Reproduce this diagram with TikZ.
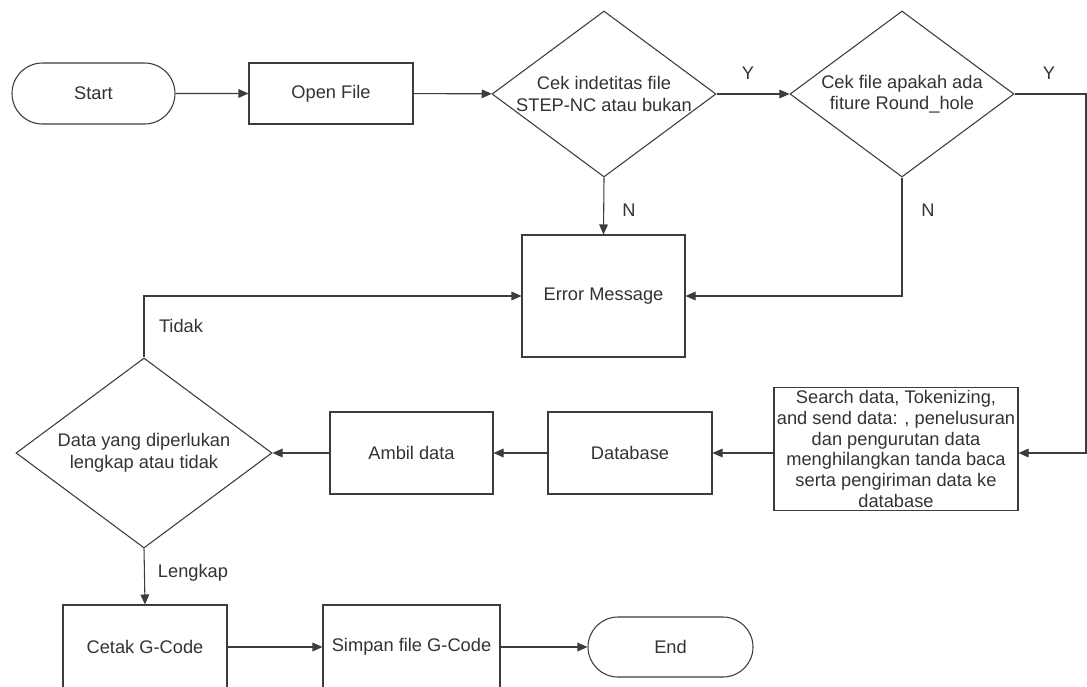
\documentclass[tikz,border=0pt]{standalone}
\usepackage{fontspec}
\setmainfont{Liberation Sans}
\usetikzlibrary{shapes.geometric,shapes.misc,arrows.meta}
\definecolor{ln}{HTML}{3C3C3C}
\definecolor{tx}{HTML}{333333}
\begin{document}
\begin{tikzpicture}[x=0.75pt,y=-0.75pt,
  every node/.style={font=\fontsize{13.7}{16.2}\selectfont, text=tx},
  base/.style={draw=ln, line width=0.8pt, fill=white, align=center, inner sep=0pt},
  term/.style={base, rounded rectangle},
  proc/.style={base, rectangle},
  dec/.style={base, diamond, shape aspect=1.35},
  arr/.style={draw=ln, line width=0.8pt, -{Triangle[length=7.5pt,width=6.5pt]}},
  lbl/.style={inner sep=0pt}
]
\useasboundingbox (0,0) rectangle (1087,686);
\fill[white] (0,0) rectangle (1087,686);

\node[term, minimum width=122.25pt, minimum height=45.75pt] (start) at (93.5,93.5) {Start};
\node[proc, minimum width=123pt, minimum height=45.75pt] (open) at (331,93.5) {Open File};
\node[dec, minimum width=168pt, minimum height=124.5pt] (d1) at (604,94) {Cek indetitas file\\STEP-NC atau bukan};
\node[dec, minimum width=168pt, minimum height=124.5pt] (d2) at (902,94) {Cek file apakah ada\\fiture Round\_hole};
\node[proc, minimum width=122.25pt, minimum height=91.5pt] (err) at (603.5,296) {Error Message};
\node[proc, minimum width=183pt, minimum height=92.25pt, inner ysep=0.3pt, font=\fontsize{13.7}{15.5}\selectfont] (search) at (896,449) {Search data, Tokenizing,\\and send data: , penelusuran\\dan pengurutan data\\menghilangkan tanda baca\\serta pengiriman data ke\\database};
\node[proc, minimum width=123pt, minimum height=61.5pt] (db) at (630,453) {Database};
\node[proc, minimum width=122.25pt, minimum height=61.5pt] (ambil) at (411.5,453) {Ambil data};
\node[dec, minimum width=192pt, minimum height=142.5pt] (d3) at (144,453) {Data yang diperlukan\\lengkap atau tidak};
\node[proc, minimum width=123pt, minimum height=63pt] (cetak) at (145,647) {Cetak G-Code};
\node[proc, minimum width=132.75pt, minimum height=63pt] (simpan) at (411.5,647) {Simpan file G-Code};
\node[term, minimum width=123.75pt, minimum height=45pt] (end) at (670.5,647) {End};

\coordinate (rt) at (1086,453);

\draw[arr] (start) -- (open);
\draw[arr] (open) -- (d1);
\draw[arr] (d1) -- (d2);
\draw[arr] (d2.east) -| (rt) -- (search.east |- rt);
\draw[arr] (d1.south) -- (err.north);
\draw[arr] (d2.south) |- (err.east);
\draw[arr] (search.west |- db.east) -- (db.east);
\draw[arr] (db) -- (ambil);
\draw[arr] (ambil) -- (d3.east);
\draw[arr] (d3.north) |- (err.west);
\draw[arr] (d3.south) -- (cetak.north);
\draw[arr] (cetak) -- (simpan);
\draw[arr] (simpan) -- (end);

\node[lbl] (y1) at (748,73) {Y};
\node[lbl] (y2) at (1049,73) {Y};
\node[lbl] (n1) at (629,210) {N};
\node[lbl] (n2) at (928,210) {N};
\node[lbl] (tidak) at (181,326) {Tidak};
\node[lbl] (lengkap) at (193,573) {Lengkap};
\end{tikzpicture}
\end{document}
